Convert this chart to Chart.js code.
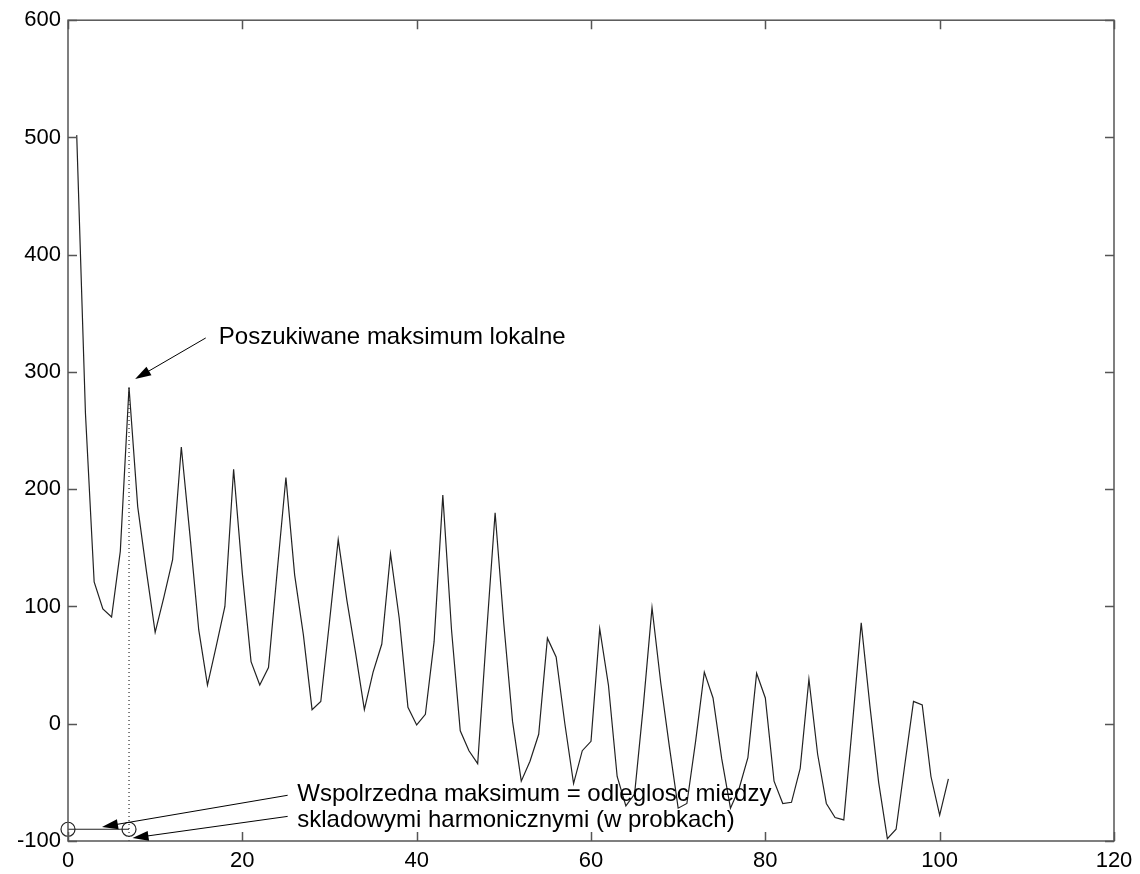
<!DOCTYPE html>
<html>
<head>
<meta charset="utf-8">
<script src="https://cdn.jsdelivr.net/npm/chart.js@4/dist/chart.umd.min.js"></script>
<style>
  html, body { margin: 0; padding: 0; background: #ffffff; }
  #wrap { width: 1140px; height: 874px; }
</style>
</head>
<body>
<div id="wrap"><canvas id="c" width="1140" height="874"></canvas></div>
<script>
// Cepstrum samples, index 1..101
const cepstrum = [
  502, 265, 121, 98, 91, 147, 287, 185, 130, 78,
  108, 140, 236, 160, 80, 33, 66, 100, 217, 128,
  53, 33, 48, 130, 210, 127, 76, 12, 19, 87,
  157, 105, 60, 12, 44, 68, 145, 90, 14, -1,
  8, 70, 195, 80, -6, -23, -34, 75, 180, 85,
  2, -49, -32, -9, 73, 57, 0, -51, -23, -15,
  81, 33, -45, -70, -60, 15, 99, 35, -20, -72,
  -68, -15, 44, 22, -30, -72, -55, -29, 43, 22,
  -49, -68, -67, -38, 38, -26, -68, -80, -82, 0,
  86, 15, -50, -98, -90, -35, 19, 16, -45, -78,
  -47
];
const sampleIndex = cepstrum.map((_, i) => i + 1);

// Axis ranges and tick values
const xTicks = [0, 20, 40, 60, 80, 100, 120];
const yTicks = [-100, 0, 100, 200, 300, 400, 500, 600];

// Located peak (sample 7) and its distance marker on the bottom
const peakIndex = 7;
const markerLevel = -90;
const markerX = [0, peakIndex];

// Annotation texts
const peakNote = 'Poszukiwane maksimum lokalne';
const distNote = ['Wspolrzedna maksimum = odleglosc miedzy', 'skladowymi harmonicznymi (w probkach)'];

const FONT = '"Liberation Sans", Arial, Helvetica, sans-serif';
const INK = '#222222';

const seriesPoints = sampleIndex.map((x, i) => ({ x: x, y: cepstrum[i] }));
const peakValue = cepstrum[peakIndex - 1];

// Box around the plot with inward tick marks on all four sides
const boxPlugin = {
  id: 'box',
  afterDatasetsDraw(chart) {
    const { ctx, chartArea: a, scales } = chart;
    ctx.save();
    ctx.strokeStyle = '#555555';
    ctx.lineWidth = 1.5;
    ctx.strokeRect(a.left, a.top, a.right - a.left, a.bottom - a.top);
    const len = 9;
    ctx.beginPath();
    xTicks.forEach(v => {
      const px = Math.round(scales.x.getPixelForValue(v)) + 0.5;
      ctx.moveTo(px, a.bottom); ctx.lineTo(px, a.bottom - len);
      ctx.moveTo(px, a.top); ctx.lineTo(px, a.top + len);
    });
    yTicks.forEach(v => {
      const py = Math.round(scales.y.getPixelForValue(v)) + 0.5;
      ctx.moveTo(a.left, py); ctx.lineTo(a.left + len, py);
      ctx.moveTo(a.right, py); ctx.lineTo(a.right - len, py);
    });
    ctx.stroke();
    ctx.restore();
  }
};

function arrow(ctx, x0, y0, x1, y1) {
  const ang = Math.atan2(y1 - y0, x1 - x0);
  const headLen = 16, headW = 5;
  ctx.beginPath();
  ctx.moveTo(x0, y0);
  ctx.lineTo(x1 - Math.cos(ang) * headLen * 0.8, y1 - Math.sin(ang) * headLen * 0.8);
  ctx.stroke();
  ctx.beginPath();
  ctx.moveTo(x1, y1);
  ctx.lineTo(x1 - Math.cos(ang) * headLen - Math.sin(ang) * headW,
             y1 - Math.sin(ang) * headLen + Math.cos(ang) * headW);
  ctx.lineTo(x1 - Math.cos(ang) * headLen + Math.sin(ang) * headW,
             y1 - Math.sin(ang) * headLen - Math.cos(ang) * headW);
  ctx.closePath();
  ctx.fill();
}

// Text notes and arrows, positioned in data units
const notePlugin = {
  id: 'notes',
  afterDraw(chart) {
    const { ctx, scales } = chart;
    const X = v => scales.x.getPixelForValue(v);
    const Y = v => scales.y.getPixelForValue(v);
    ctx.save();
    ctx.fillStyle = '#000000';
    ctx.strokeStyle = '#000000';
    ctx.lineWidth = 1;
    ctx.font = '24px ' + FONT;
    ctx.textAlign = 'left';
    ctx.textBaseline = 'alphabetic';
    ctx.fillText(peakNote, X(17.3), Y(324));
    arrow(ctx, X(15.8), Y(329), X(7.7), Y(294));

    ctx.fillText(distNote[0], X(26.3), Y(-66));
    ctx.fillText(distNote[1], X(26.3), Y(-88));
    arrow(ctx, X(25.2), Y(-61), X(3.9), Y(-88));
    arrow(ctx, X(25.2), Y(-79), X(7.4), Y(-97.5));
    ctx.restore();
  }
};

new Chart(document.getElementById('c'), {
  type: 'scatter',
  data: {
    datasets: [
      {
        data: seriesPoints,
        showLine: true,
        borderColor: INK,
        borderWidth: 1.2,
        pointRadius: 0,
        tension: 0
      },
      {
        data: [{ x: peakIndex, y: -100 }, { x: peakIndex, y: peakValue }],
        showLine: true,
        borderColor: '#000000',
        borderWidth: 1,
        borderDash: [1, 3],
        pointRadius: 0
      },
      {
        data: markerX.map(x => ({ x: x, y: markerLevel })),
        showLine: true,
        borderColor: INK,
        borderWidth: 1.2,
        pointRadius: 7,
        pointBorderWidth: 1.2,
        pointBorderColor: INK,
        pointBackgroundColor: 'rgba(0,0,0,0)',
        clip: false
      }
    ]
  },
  options: {
    responsive: false,
    animation: false,
    devicePixelRatio: 1,
    layout: { padding: { left: 0, top: 16, right: 26, bottom: 0 } },
    plugins: { legend: { display: false }, tooltip: { enabled: false }, title: { display: false } },
    scales: {
      x: {
        type: 'linear',
        min: 0, max: 120,
        grid: { display: false, drawTicks: false },
        border: { display: false },
        afterBuildTicks: s => { s.ticks = xTicks.map(v => ({ value: v })); },
        afterFit: s => { s.height = 33; },
        ticks: { color: '#000', font: { family: FONT, size: 22 }, padding: 7, maxRotation: 0 }
      },
      y: {
        type: 'linear',
        min: -100, max: 600,
        grid: { display: false, drawTicks: false },
        border: { display: false },
        afterBuildTicks: s => { s.ticks = yTicks.map(v => ({ value: v })); },
        afterFit: s => { s.width = 68; },
        ticks: { color: '#000', font: { family: FONT, size: 22 }, padding: 7 }
      }
    }
  },
  plugins: [boxPlugin, notePlugin]
});
</script>
</body>
</html>
